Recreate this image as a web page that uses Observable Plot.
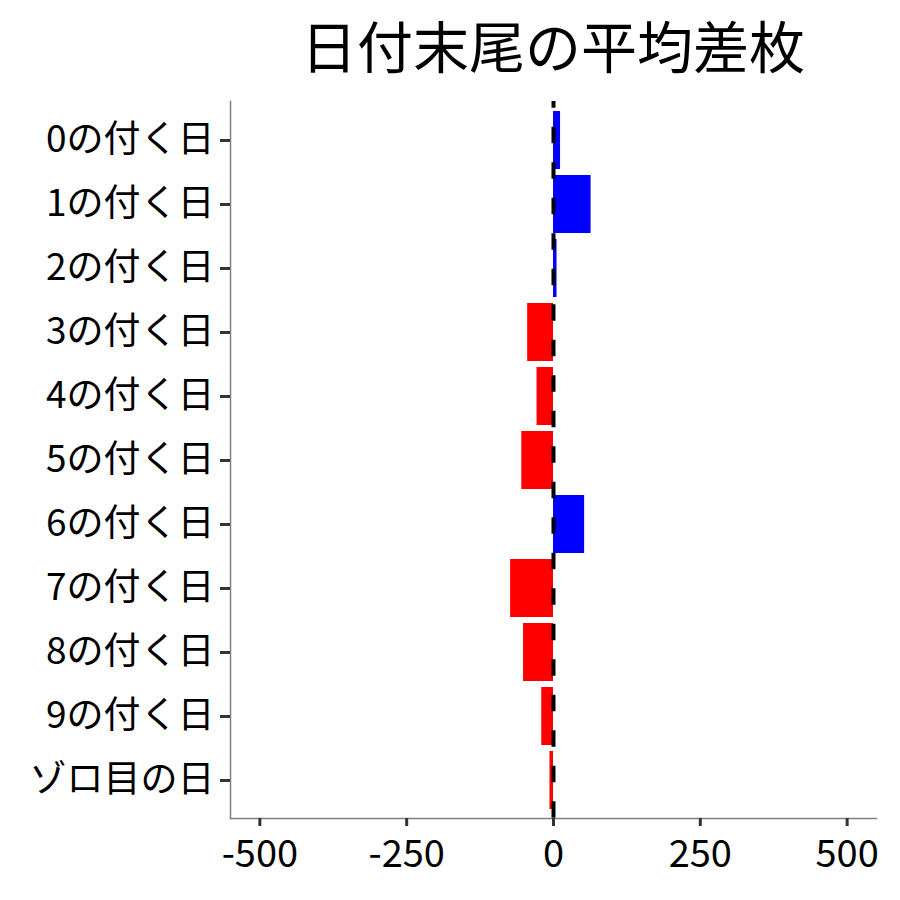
<!DOCTYPE html>
<html>
<head>
<meta charset="utf-8">
<script src="https://cdn.jsdelivr.net/npm/d3@7"></script>
<script src="https://cdn.jsdelivr.net/npm/@observablehq/plot@0.6"></script>
<style>
  body { margin: 0; background: #fff; font-family: "Noto Sans CJK JP", sans-serif; }
  #title { width: 900px; height: 90px; box-sizing: border-box; padding-left: 230px; padding-right: 24px;
           text-align: center; font-size: 56px; line-height: 88px; color: #000; }
</style>
</head>
<body>
<div id="title">日付末尾の平均差枚</div>
<div id="chart"></div>
<script>
const categories = ["0の付く日","1の付く日","2の付く日","3の付く日","4の付く日","5の付く日","6の付く日","7の付く日","8の付く日","9の付く日","ゾロ目の日"];
const values = [12, 64, 6, -44, -28, -54, 53, -73, -51, -20, -6];
const xTicks = [-500, -250, 0, 250, 500];
const xDomain = [-550, 550];

const data = categories.map((c, i) => ({cat: c, value: values[i], sign: values[i] >= 0 ? "pos" : "neg"}));

const chart = Plot.plot({
  width: 900,
  height: 810,
  marginTop: 11,
  marginLeft: 230,
  marginRight: 24,
  marginBottom: 82,
  style: {fontFamily: "'Noto Sans CJK JP', sans-serif", background: "#fff", color: "#000"},
  x: {domain: xDomain, ticks: xTicks},
  y: {domain: categories, paddingInner: 0.1, paddingOuter: 0.15},
  color: {domain: ["pos", "neg"], range: ["#0000ff", "#ff0000"]},
  marks: [
    Plot.barX(data, {x: "value", y: "cat", fill: "sign"}),
    Plot.ruleX([0], {stroke: "#000", strokeWidth: 4, strokeDasharray: "16.5,19", strokeDashoffset: 9.8}),
    Plot.frame({anchor: "left", stroke: "#808080", strokeWidth: 1.5}),
    Plot.frame({anchor: "bottom", stroke: "#808080", strokeWidth: 1.5}),
    Plot.axisX({ticks: xTicks, tickSize: 8, tickPadding: 14, tickFormat: d => String(d), fontSize: 38, stroke: "#333", strokeWidth: 3, label: null, fill: "#000"}),
    Plot.axisY({tickSize: 10, tickPadding: 6, fontSize: 37, stroke: "#333", strokeWidth: 3, label: null, fill: "#000"})
  ]
});
document.getElementById("chart").appendChild(chart);
</script>
</body>
</html>
